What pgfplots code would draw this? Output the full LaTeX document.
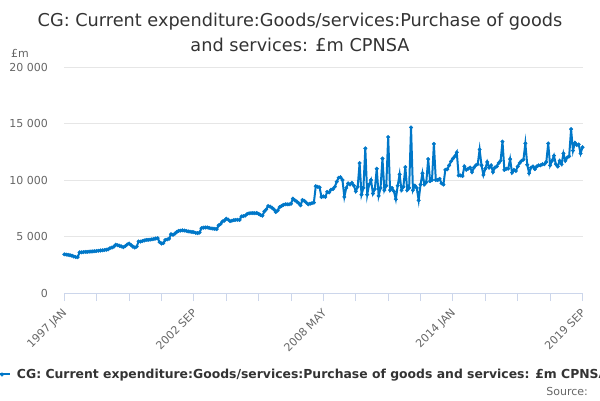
\documentclass[border=0pt]{standalone}
\usepackage{fontspec}
\setmainfont{DejaVu Sans}
\usepackage{pgfplots}
\pgfplotsset{compat=1.18}
\definecolor{linec}{HTML}{0077C8}
\definecolor{gridc}{HTML}{E6E6E6}
\definecolor{axisc}{HTML}{CCD6EB}
\definecolor{labelc}{HTML}{666666}
\definecolor{titlec}{HTML}{333333}
\begin{document}
\begin{tikzpicture}
\begin{axis}[
 at={(64.3pt,107pt)}, anchor=south west,
 scale only axis, width=518.2pt, height=226pt,
 xmin=0, xmax=272, ymin=0, ymax=20000,
 axis x line*=bottom, axis y line*=left,
 x axis line style={draw=axisc, line width=1pt, -},
 y axis line style={draw=none},
 xtick={0,68,136,204,272},
 xticklabels={1997 JAN,2002 SEP,2008 MAY,2014 JAN,2019 SEP},
 minor xtick={17,34,51,85,102,119,153,170,187,221,238,255},
 ytick={0,5000,10000,15000,20000},
 yticklabels={0,5 000,10 000,15 000,20 000},
 scaled y ticks=false,
 tick align=outside, major tick length=8pt, minor tick length=8pt,
 x tick style={draw=axisc, line width=1pt},
 y tick style={draw=none},
 ymajorgrids, grid style={draw=gridc, line width=1pt},
 tick label style={font=\fontsize{11}{13}\selectfont, text=labelc},
 xticklabel style={anchor=east, inner sep=0pt, xshift=1pt, yshift=-10pt, rotate=45},
 yticklabel style={anchor=east, inner sep=0pt, xshift=-8.3pt},
 clip=false,
 legend style={at={(axis description cs:-0.1376,-0.3606)}, anchor=west,
   draw=none, fill=none, inner sep=0pt, outer sep=0pt, column sep=6pt,
   font=\bfseries\fontsize{12.4}{14}\selectfont, text=titlec,
   nodes={inner sep=0pt}},
 legend cell align=left,
 legend image code/.code={\draw[mark repeat=2,mark phase=2,#1] plot coordinates {(0pt,0pt) (8pt,0pt) (16pt,0pt)};},
]
\addplot[color=linec, line width=2pt, mark=*, mark size=1.8pt,
  mark options={draw=linec, fill=linec, line width=0.4pt}] coordinates {
(0,3420)(1,3400)(2,3380)(3,3340)(4,3300)(5,3230)(6,3180)(7,3170)(8,3600)(9,3600)(10,3620)(11,3640)
(12,3640)(13,3660)(14,3670)(15,3680)(16,3700)(17,3720)(18,3740)(19,3760)(20,3780)(21,3800)(22,3830)(23,3860)
(24,3970)(25,4020)(26,4100)(27,4270)(28,4230)(29,4180)(30,4120)(31,4050)(32,4150)(33,4300)(34,4380)(35,4250)
(36,4100)(37,4030)(38,4100)(39,4560)(40,4550)(41,4600)(42,4650)(43,4700)(44,4700)(45,4720)(46,4750)(47,4780)
(48,4820)(49,4850)(50,4500)(51,4380)(52,4420)(53,4700)(54,4740)(55,4800)(56,5200)(57,5150)(58,5250)(59,5400)
(60,5500)(61,5520)(62,5550)(63,5530)(64,5500)(65,5450)(66,5430)(67,5400)(68,5380)(69,5320)(70,5300)(71,5350)
(72,5740)(73,5780)(74,5800)(75,5800)(76,5760)(77,5720)(78,5700)(79,5680)(80,5650)(81,5980)(82,6100)(83,6330)
(84,6400)(85,6570)(86,6500)(87,6360)(88,6400)(89,6450)(90,6470)(91,6480)(92,6470)(93,6780)(94,6800)(95,6850)
(96,7000)(97,7050)(98,7070)(99,7070)(100,7060)(101,7080)(102,7000)(103,6900)(104,6840)(105,7220)(106,7400)(107,7700)
(108,7650)(109,7550)(110,7400)(111,7160)(112,7300)(113,7600)(114,7700)(115,7800)(116,7850)(117,7850)(118,7850)(119,7900)
(120,8350)(121,8200)(122,8100)(123,7950)(124,7760)(125,8230)(126,8150)(127,8000)(128,7850)(129,7900)(130,7950)(131,8000)
(132,9450)(133,9400)(134,9350)(135,8500)(136,8550)(137,8500)(138,8950)(139,8900)(140,9150)(141,9200)(142,9400)(143,9850)
(144,10200)(145,10250)(146,10000)(147,8500)(148,9300)(149,9700)(150,9600)(151,9750)(152,9500)(153,9000)(154,9400)(155,11500)
(156,8700)(157,9300)(158,12800)(159,8700)(160,9600)(161,10000)(162,8800)(163,9200)(164,11000)(165,8600)(166,9300)(167,11900)
(168,9100)(169,9500)(170,13800)(171,9100)(172,9300)(173,9000)(174,8300)(175,9500)(176,10500)(177,9100)(178,9400)(179,11150)
(180,9100)(181,9300)(182,14650)(183,9100)(184,9500)(185,9300)(186,8200)(187,9600)(188,10600)(189,9600)(190,9800)(191,11850)
(192,9900)(193,10000)(194,13200)(195,10000)(196,10000)(197,10100)(198,9700)(199,9600)(200,10900)(201,10950)(202,11300)(203,11650)
(204,11900)(205,12100)(206,12450)(207,10400)(208,10400)(209,10350)(210,11200)(211,10900)(212,11000)(213,11100)(214,10700)(215,11100)
(216,11300)(217,11400)(218,12700)(219,11300)(220,10450)(221,11000)(222,11600)(223,11100)(224,11300)(225,10700)(226,11100)(227,11200)
(228,11500)(229,11700)(230,13400)(231,10900)(232,11000)(233,11000)(234,11850)(235,10650)(236,10900)(237,10800)(238,11200)(239,11500)
(240,11700)(241,11800)(242,13240)(243,11350)(244,10600)(245,11100)(246,11200)(247,10960)(248,11200)(249,11300)(250,11300)(251,11400)
(252,11400)(253,11600)(254,13240)(255,11300)(256,11700)(257,12150)(258,11400)(259,11200)(260,11700)(261,11400)(262,12350)(263,11700)
(264,12000)(265,12100)(266,14500)(267,12600)(268,13300)(269,13100)(270,13150)(271,12350)(272,12900)
};
\addlegendentry{CG: Current expenditure:Goods/services:Purchase of goods and services: £m CPNSA}
\end{axis}
\node[anchor=base, font=\fontsize{17.7}{22}\selectfont, text=titlec] at (300pt,373.5pt) {CG: Current expenditure:Goods/services:Purchase of goods};
\node[anchor=base, font=\fontsize{17.7}{22}\selectfont, text=titlec] at (300pt,348.5pt) {and services: £m CPNSA};
\node[anchor=base west, inner sep=0pt, font=\fontsize{11}{13}\selectfont, text=labelc] at (11pt,342pt) {£m};
\node[anchor=base east, inner sep=0pt, font=\fontsize{11}{13}\selectfont, text=labelc] at (588pt,5pt) {Source:};
\pgfresetboundingbox
\useasboundingbox (0pt,0pt) rectangle (600pt,400pt);
\end{tikzpicture}
\end{document}
